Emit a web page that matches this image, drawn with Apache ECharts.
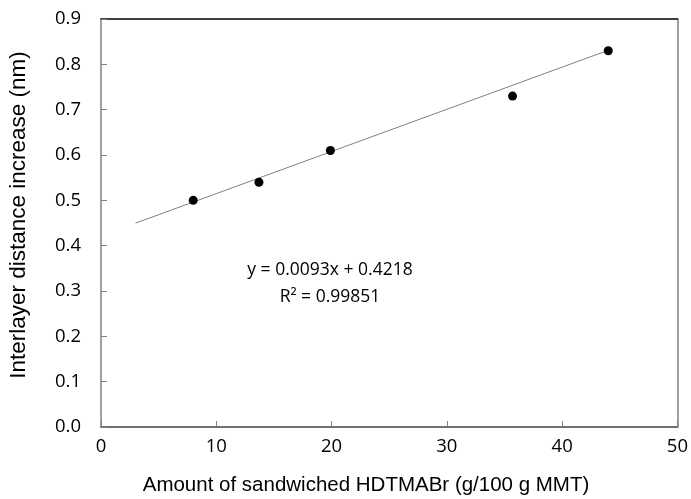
<!DOCTYPE html>
<html>
<head>
<meta charset="utf-8">
<script src="https://cdn.jsdelivr.net/npm/echarts@6/dist/echarts.min.js"></script>
<style>
  html, body { margin: 0; padding: 0; background: #fff; }
  #chart { width: 691px; height: 499px; }
</style>
</head>
<body>
<div id="chart"></div>
<script>
// measured points
const amount = [8.0, 13.7, 19.9, 35.7, 44.0]
const spacing = [0.50, 0.54, 0.61, 0.73, 0.83]
// linear trendline as printed on the chart
const slope = 0.0093
const intercept = 0.4218
const trendX = [3.0, 44.0]
const eqText = ['y = 0.0093x + 0.4218', 'R² = 0.99851']
const xTitle = 'Amount of sandwiched HDTMABr (g/100 g MMT)'
const yTitle = 'Interlayer distance increase (nm)'

const chart = echarts.init(document.getElementById('chart'))

const tickFont = { fontFamily: 'Open Sans', fontSize: 18.5, color: '#000' }

const option = {
  animation: false,
  grid: { left: 101, top: 19, width: 577, height: 408 },
  xAxis: [
    {
      type: 'value',
      min: 0, max: 50, interval: 10,
      axisLine: { show: true, lineStyle: { color: '#404040', width: 1.5 } },
      axisTick: { show: true, inside: true, length: 6, lineStyle: { color: '#808080' } },
      axisLabel: Object.assign({ margin: 10 }, tickFont),
      splitLine: { show: false }
    },
    {
      type: 'value', position: 'top',
      min: 0, max: 50,
      axisLine: { show: true, onZero: false, lineStyle: { color: '#000', width: 1.5 } },
      axisTick: { show: false }, axisLabel: { show: false }, splitLine: { show: false }
    }
  ],
  yAxis: [
    {
      type: 'value',
      min: 0, max: 0.9, interval: 0.1,
      axisLine: { show: true, lineStyle: { color: '#808080', width: 1.5 } },
      axisTick: { show: true, inside: true, length: 6, lineStyle: { color: '#808080' } },
      axisLabel: Object.assign({ margin: 20, formatter: v => v.toFixed(1) }, tickFont),
      splitLine: { show: false }
    },
    {
      type: 'value', position: 'right',
      min: 0, max: 0.9,
      axisLine: { show: true, onZero: false, lineStyle: { color: '#808080', width: 1.5 } },
      axisTick: { show: false }, axisLabel: { show: false }, splitLine: { show: false }
    }
  ],
  series: [
    {
      type: 'line',
      data: trendX.map(x => [x, slope * x + intercept]),
      symbol: 'none',
      lineStyle: { color: '#7f7f7f', width: 1 },
      z: 1
    },
    {
      type: 'scatter',
      data: amount.map((x, i) => [x, spacing[i]]),
      symbolSize: 9,
      itemStyle: { color: '#000', opacity: 1 },
      z: 2
    }
  ],
  graphic: [
    {
      type: 'text', x: 330, y: 270,
      style: { text: eqText[0], textAlign: 'center', textVerticalAlign: 'middle', fontFamily: 'Open Sans', fontSize: 17.5, fill: '#000' }
    },
    {
      type: 'text', x: 330, y: 297,
      style: { text: eqText[1], textAlign: 'center', textVerticalAlign: 'middle', fontFamily: 'Open Sans', fontSize: 17.5, fill: '#000' }
    },
    {
      type: 'text', x: 366, y: 485,
      style: { text: xTitle, textAlign: 'center', textVerticalAlign: 'middle', fontFamily: 'Liberation Sans', fontSize: 20.5, fill: '#000' }
    },
    {
      type: 'text', x: 19, y: 215, rotation: Math.PI / 2,
      style: { text: yTitle, textAlign: 'center', textVerticalAlign: 'middle', fontFamily: 'Liberation Sans', fontSize: 22.5, fill: '#000' }
    }
  ]
}
chart.setOption(option)
</script>
</body>
</html>
